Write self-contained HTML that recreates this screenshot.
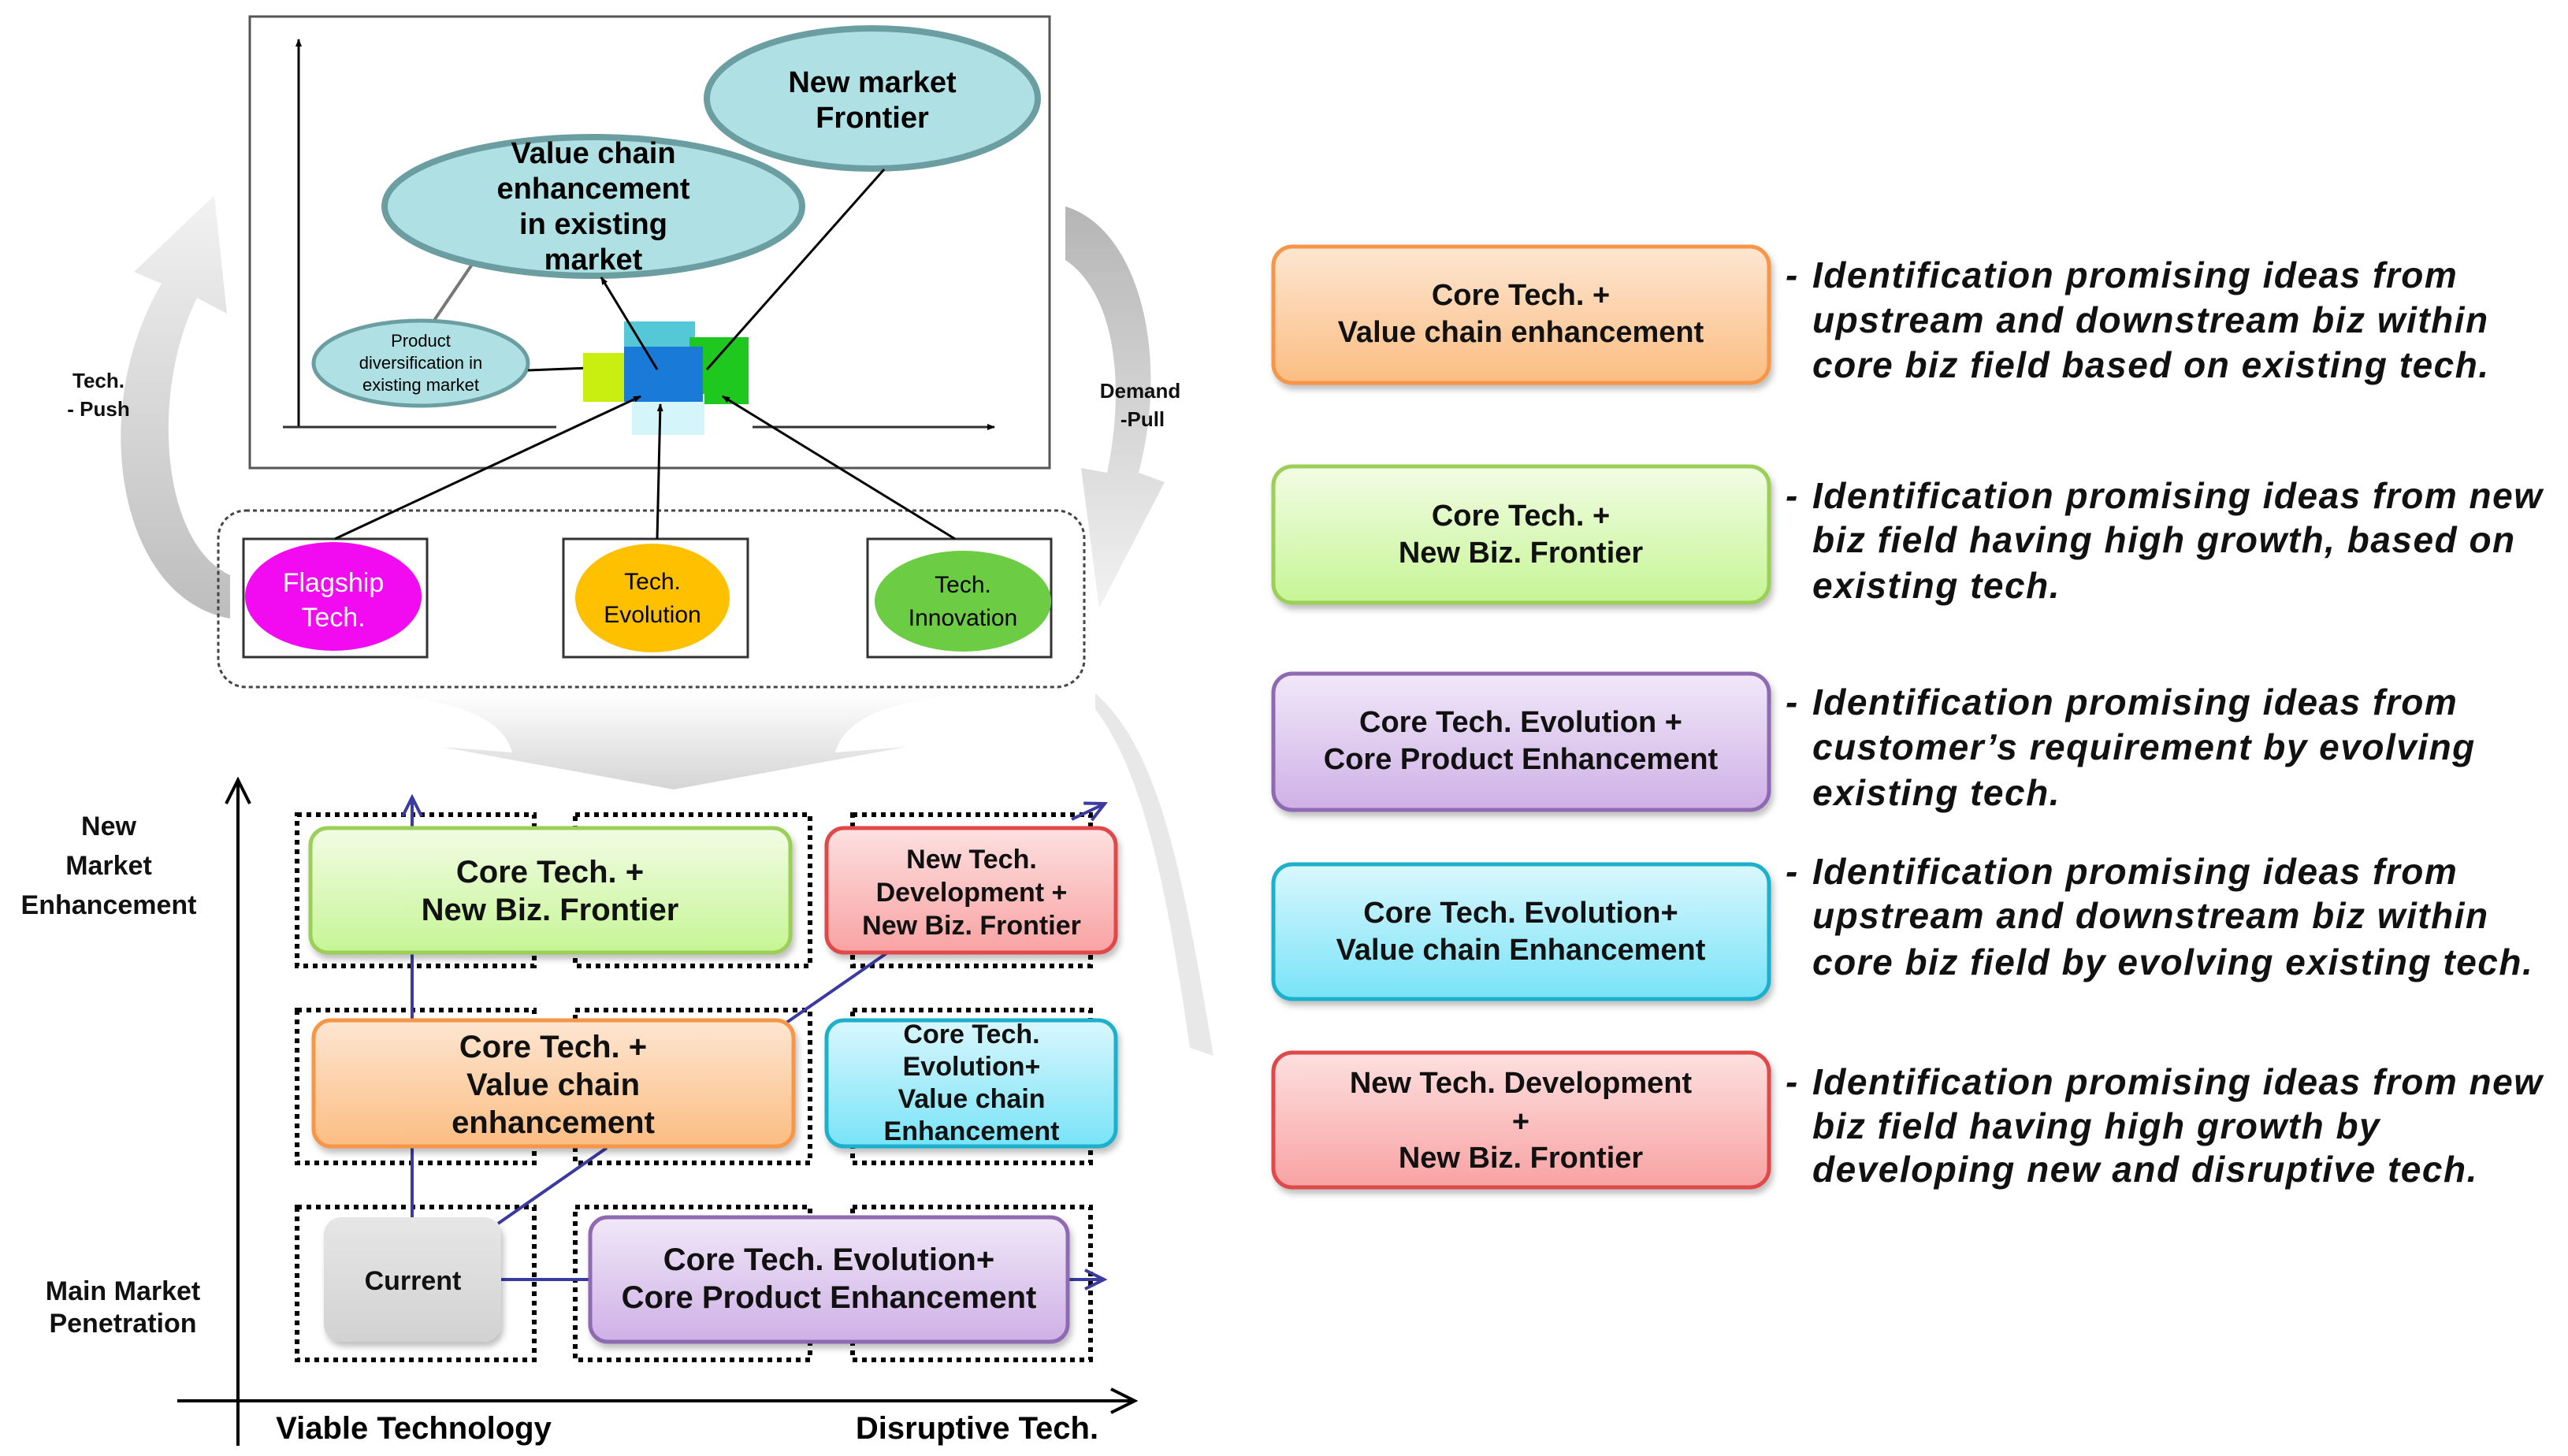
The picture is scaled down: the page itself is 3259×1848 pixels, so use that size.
<!DOCTYPE html>
<html><head><meta charset="utf-8"><style>
html,body{margin:0;padding:0;background:#fff}
svg{display:block}
text{font-family:"Liberation Sans",sans-serif}
.bx{font-size:38px;fill:#111;font-weight:bold}
.ds{font-size:46px;font-weight:bold;font-style:italic;fill:#111;letter-spacing:1.5px}
.lb{font-size:34px;font-weight:bold;fill:#111}
</style></head><body>
<svg width="3259" height="1848" viewBox="0 0 3259 1848" xmlns="http://www.w3.org/2000/svg">
<defs>
<linearGradient id="gOr" x1="0" y1="0" x2="0" y2="1"><stop offset="0" stop-color="#fde6d2"/><stop offset="1" stop-color="#fbbd82"/></linearGradient>
<linearGradient id="gGr" x1="0" y1="0" x2="0" y2="1"><stop offset="0" stop-color="#f2fce4"/><stop offset="1" stop-color="#c6f595"/></linearGradient>
<linearGradient id="gPu" x1="0" y1="0" x2="0" y2="1"><stop offset="0" stop-color="#f1e8f8"/><stop offset="1" stop-color="#ceb0e6"/></linearGradient>
<linearGradient id="gCy" x1="0" y1="0" x2="0" y2="1"><stop offset="0" stop-color="#daf7fd"/><stop offset="1" stop-color="#78e3f7"/></linearGradient>
<linearGradient id="gRd" x1="0" y1="0" x2="0" y2="1"><stop offset="0" stop-color="#fde0e0"/><stop offset="1" stop-color="#f8a2a2"/></linearGradient>
<linearGradient id="gGy" x1="0" y1="0" x2="0" y2="1"><stop offset="0" stop-color="#e6e6e6"/><stop offset="1" stop-color="#d2d2d2"/></linearGradient>
<linearGradient id="gAr" x1="0" y1="0" x2="0" y2="1"><stop offset="0" stop-color="#f2f2f2"/><stop offset="1" stop-color="#bdbdbd"/></linearGradient>
<linearGradient id="gAr2" x1="0" y1="0" x2="0" y2="1"><stop offset="0" stop-color="#b5b5b5"/><stop offset="1" stop-color="#f2f2f2"/></linearGradient>
<linearGradient id="gCh" x1="0" y1="0" x2="0" y2="1"><stop offset="0" stop-color="#ffffff"/><stop offset="1" stop-color="#d0d0d0"/></linearGradient>
<marker id="ak" markerWidth="10" markerHeight="10" refX="9" refY="5" orient="auto" markerUnits="userSpaceOnUse"><path d="M0,1 L10,5 L0,9 Z" fill="#000"/></marker>
<marker id="ab" markerWidth="30" markerHeight="30" refX="26" refY="15" orient="auto" markerUnits="userSpaceOnUse"><path d="M2,3 L26,15 L2,27" fill="none" stroke="#3a3aa0" stroke-width="4"/></marker>
<marker id="ax" markerWidth="36" markerHeight="36" refX="32" refY="18" orient="auto" markerUnits="userSpaceOnUse"><path d="M2,3 L32,18 L2,33" fill="none" stroke="#000" stroke-width="4"/></marker>
<filter id="sh" x="-5%" y="-5%" width="110%" height="120%"><feDropShadow dx="3" dy="6" stdDeviation="4" flood-color="#000" flood-opacity="0.25"/></filter>
</defs>

<path d="M292 785 C150 760 110 520 205 360 L170 345 L272 248 L288 398 L250 378 C190 500 205 690 292 730 Z" fill="url(#gAr)"/>
<path d="M1352 262 C1445 290 1485 450 1445 600 L1478 612 L1395 772 L1372 594 L1405 600 C1430 480 1412 370 1352 330 Z" fill="url(#gAr2)"/>
<path d="M440 878 C600 885 640 920 650 955 L560 948 L855 1002 L1150 948 L1060 955 C1070 920 1110 885 1270 878 Z" fill="url(#gCh)" opacity="0.9"/>
<path d="M1390 880 C1470 950 1500 1100 1540 1340 L1510 1330 C1480 1120 1450 980 1390 900 Z" fill="#e2e2e2" opacity="0.8"/>

<rect x="317" y="21" width="1015" height="573" fill="#fff" stroke="#555" stroke-width="3"/>
<line x1="379" y1="542" x2="379" y2="50" stroke="#000" stroke-width="3" marker-end="url(#ak)"/>
<line x1="359" y1="542" x2="706" y2="542" stroke="#333" stroke-width="3"/>
<line x1="955" y1="542" x2="1262" y2="542" stroke="#333" stroke-width="3" marker-end="url(#ak)"/>
<path d="M550 408 L630 290" stroke="#777" stroke-width="4" fill="none"/>
<path d="M860 285 L900 255" stroke="#777" stroke-width="4" fill="none"/>
<ellipse cx="1107" cy="125" rx="210" ry="89" fill="#aee0e4" stroke="#6b9ea0" stroke-width="8"/>
<text x="1107" y="117" text-anchor="middle" font-size="38" font-weight="bold">New market</text>
<text x="1107" y="162" text-anchor="middle" font-size="38" font-weight="bold">Frontier</text>
<ellipse cx="753" cy="262" rx="265" ry="88" fill="#aee0e4" stroke="#6b9ea0" stroke-width="8"/>
<text x="753" y="207" text-anchor="middle" font-size="38" font-weight="bold">Value chain</text>
<text x="753" y="252" text-anchor="middle" font-size="38" font-weight="bold">enhancement</text>
<text x="753" y="297" text-anchor="middle" font-size="38" font-weight="bold">in existing</text>
<text x="753" y="342" text-anchor="middle" font-size="38" font-weight="bold">market</text>
<ellipse cx="534" cy="461" rx="136" ry="54" fill="#aee0e4" stroke="#6b9ea0" stroke-width="5"/>
<text x="534" y="440" text-anchor="middle" font-size="22">Product</text>
<text x="534" y="468" text-anchor="middle" font-size="22">diversification in</text>
<text x="534" y="496" text-anchor="middle" font-size="22">existing market</text>
<line x1="670" y1="470" x2="800" y2="465" stroke="#000" stroke-width="3"/>
<rect x="740" y="448" width="75" height="62" fill="#c8ef10"/>
<rect x="792" y="408" width="90" height="45" fill="#55c8d8"/>
<rect x="875" y="428" width="75" height="85" fill="#1fc81f"/>
<rect x="802" y="500" width="92" height="52" fill="#d4f6fa"/>
<rect x="792" y="440" width="100" height="70" fill="#1a7ad8"/>
<circle cx="840" cy="418" r="10" fill="#55c8d8"/>
<line x1="834" y1="469" x2="763" y2="352" stroke="#000" stroke-width="3" marker-end="url(#ak)"/>
<line x1="897" y1="469" x2="1122" y2="215" stroke="#000" stroke-width="3"/>
<rect x="277" y="648" width="1099" height="224" rx="35" fill="none" stroke="#444" stroke-width="3" stroke-dasharray="5,4"/>
<rect x="309" y="684" width="233" height="150" fill="#fff" stroke="#333" stroke-width="3"/>
<rect x="715" y="684" width="234" height="150" fill="#fff" stroke="#333" stroke-width="3"/>
<rect x="1101" y="684" width="233" height="150" fill="#fff" stroke="#333" stroke-width="3"/>
<ellipse cx="423" cy="757" rx="112" ry="69" fill="#f20af0"/>
<text x="423" y="751" text-anchor="middle" font-size="34" fill="#fff">Flagship</text>
<text x="423" y="795" text-anchor="middle" font-size="34" fill="#fff">Tech.</text>
<ellipse cx="828" cy="759" rx="98" ry="69" fill="#ffc000"/>
<text x="828" y="748" text-anchor="middle" font-size="30">Tech.</text>
<text x="828" y="790" text-anchor="middle" font-size="30">Evolution</text>
<ellipse cx="1222" cy="763" rx="112" ry="64" fill="#6ccc44"/>
<text x="1222" y="752" text-anchor="middle" font-size="30">Tech.</text>
<text x="1222" y="794" text-anchor="middle" font-size="30">Innovation</text>
<line x1="425" y1="684" x2="813" y2="503" stroke="#000" stroke-width="3" marker-end="url(#ak)"/>
<line x1="834" y1="684" x2="838" y2="513" stroke="#000" stroke-width="3" marker-end="url(#ak)"/>
<line x1="1212" y1="684" x2="917" y2="503" stroke="#000" stroke-width="3" marker-end="url(#ak)"/>
<text x="125" y="492" text-anchor="middle" class="lb" style="font-size:26px">Tech.</text>
<text x="125" y="528" text-anchor="middle" class="lb" style="font-size:26px">- Push</text>
<text x="1447" y="505" text-anchor="middle" class="lb" style="font-size:26px">Demand</text>
<text x="1450" y="541" text-anchor="middle" class="lb" style="font-size:26px">-Pull</text>

<line x1="302" y1="1835" x2="302" y2="990" stroke="#000" stroke-width="4" marker-end="url(#ax)"/>
<line x1="225" y1="1778" x2="1440" y2="1778" stroke="#000" stroke-width="4" marker-end="url(#ax)"/>
<text x="138" y="1060" text-anchor="middle" class="lb">New</text>
<text x="138" y="1110" text-anchor="middle" class="lb">Market</text>
<text x="138" y="1160" text-anchor="middle" class="lb">Enhancement</text>
<text x="156" y="1650" text-anchor="middle" class="lb">Main Market</text>
<text x="156" y="1691" text-anchor="middle" class="lb">Penetration</text>
<text x="525" y="1826" text-anchor="middle" font-size="40" font-weight="bold">Viable Technology</text>
<text x="1240" y="1826" text-anchor="middle" font-size="40" font-weight="bold">Disruptive Tech.</text>
<g fill="none" stroke="#000" stroke-width="6" stroke-dasharray="6,6">
<rect x="377" y="1034" width="301" height="192"/><rect x="730" y="1034" width="298" height="192"/><rect x="1082" y="1034" width="302" height="192"/>
<rect x="377" y="1282" width="301" height="194"/><rect x="730" y="1282" width="298" height="194"/><rect x="1082" y="1282" width="302" height="194"/>
<rect x="377" y="1532" width="301" height="194"/><rect x="730" y="1532" width="298" height="194"/><rect x="1082" y="1532" width="302" height="194"/>
</g>
<g stroke="#3a3aa0" stroke-width="4" fill="none">
<line x1="523" y1="1545" x2="523" y2="1012" marker-end="url(#ab)"/>
<line x1="632" y1="1553" x2="770" y2="1457"/>
<line x1="998" y1="1298" x2="1125" y2="1210"/>
<line x1="1360" y1="1040" x2="1402" y2="1020" marker-end="url(#ab)"/>
<line x1="636" y1="1624" x2="749" y2="1624"/>
<line x1="1355" y1="1624" x2="1401" y2="1624" marker-end="url(#ab)"/>
</g>
<g filter="url(#sh)">
<rect x="394" y="1051" width="609" height="158" rx="22" fill="url(#gGr)" stroke="#9bcf58" stroke-width="5"/>
<rect x="1049" y="1051" width="367" height="158" rx="22" fill="url(#gRd)" stroke="#e04848" stroke-width="5"/>
<rect x="398" y="1295" width="609" height="160" rx="22" fill="url(#gOr)" stroke="#f79646" stroke-width="5"/>
<rect x="1049" y="1295" width="367" height="160" rx="22" fill="url(#gCy)" stroke="#1cb0cc" stroke-width="5"/>
<rect x="411" y="1545" width="225" height="158" rx="22" fill="url(#gGy)"/>
<rect x="749" y="1545" width="606" height="158" rx="22" fill="url(#gPu)" stroke="#8e6bb3" stroke-width="5"/>
</g>
<text x="698" y="1120" text-anchor="middle" class="bx" style="font-size:40px">Core Tech. +</text>
<text x="698" y="1168" text-anchor="middle" class="bx" style="font-size:40px">New Biz. Frontier</text>
<text x="1233" y="1102" text-anchor="middle" class="bx" style="font-size:34px">New Tech.</text>
<text x="1233" y="1144" text-anchor="middle" class="bx" style="font-size:34px">Development +</text>
<text x="1233" y="1186" text-anchor="middle" class="bx" style="font-size:34px">New Biz. Frontier</text>
<text x="702" y="1342" text-anchor="middle" class="bx" style="font-size:40px">Core Tech. +</text>
<text x="702" y="1390" text-anchor="middle" class="bx" style="font-size:40px">Value chain</text>
<text x="702" y="1438" text-anchor="middle" class="bx" style="font-size:40px">enhancement</text>
<text x="1233" y="1324" text-anchor="middle" class="bx" style="font-size:34px">Core Tech.</text>
<text x="1233" y="1365" text-anchor="middle" class="bx" style="font-size:34px">Evolution+</text>
<text x="1233" y="1406" text-anchor="middle" class="bx" style="font-size:34px">Value chain</text>
<text x="1233" y="1447" text-anchor="middle" class="bx" style="font-size:34px">Enhancement</text>
<text x="524" y="1637" text-anchor="middle" class="bx" style="font-size:34px">Current</text>
<text x="1052" y="1612" text-anchor="middle" class="bx" style="font-size:40px">Core Tech. Evolution+</text>
<text x="1052" y="1660" text-anchor="middle" class="bx" style="font-size:40px">Core Product Enhancement</text>

<g filter="url(#sh)">
<rect x="1616" y="313" width="629" height="173" rx="24" fill="url(#gOr)" stroke="#f79646" stroke-width="5"/>
<rect x="1616" y="592" width="629" height="173" rx="24" fill="url(#gGr)" stroke="#9bcf58" stroke-width="5"/>
<rect x="1616" y="855" width="629" height="173" rx="24" fill="url(#gPu)" stroke="#8e6bb3" stroke-width="5"/>
<rect x="1616" y="1097" width="629" height="171" rx="24" fill="url(#gCy)" stroke="#1cb0cc" stroke-width="5"/>
<rect x="1616" y="1336" width="629" height="171" rx="24" fill="url(#gRd)" stroke="#e04848" stroke-width="5"/>
</g>
<g class="bx" text-anchor="middle">
<text x="1930" y="387">Core Tech. +</text>
<text x="1930" y="434">Value chain enhancement</text>
<text x="1930" y="667">Core Tech. +</text>
<text x="1930" y="714">New Biz. Frontier</text>
<text x="1930" y="929">Core Tech. Evolution +</text>
<text x="1930" y="976">Core Product Enhancement</text>
<text x="1930" y="1171">Core Tech. Evolution+</text>
<text x="1930" y="1218">Value chain Enhancement</text>
<text x="1930" y="1387">New Tech. Development</text>
<text x="1930" y="1436">+</text>
<text x="1930" y="1482">New Biz. Frontier</text>
</g>
<g class="ds">
<text x="2266" y="365">-</text><text x="2300" y="365">Identification promising ideas from</text>
<text x="2300" y="422">upstream and downstream biz within</text>
<text x="2300" y="479">core biz field based on existing tech.</text>
<text x="2266" y="645">-</text><text x="2300" y="645">Identification promising ideas from new</text>
<text x="2300" y="701">biz field having high growth, based on</text>
<text x="2300" y="759">existing tech.</text>
<text x="2266" y="907">-</text><text x="2300" y="907">Identification promising ideas from</text>
<text x="2300" y="964">customer’s requirement by evolving</text>
<text x="2300" y="1022">existing tech.</text>
<text x="2266" y="1122">-</text><text x="2300" y="1122">Identification promising ideas from</text>
<text x="2300" y="1178">upstream and downstream biz within</text>
<text x="2300" y="1237">core biz field by evolving existing tech.</text>
<text x="2266" y="1389">-</text><text x="2300" y="1389">Identification promising ideas from new</text>
<text x="2300" y="1445">biz field having high growth by</text>
<text x="2300" y="1500">developing new and disruptive tech.</text>
</g>
</svg>
</body></html>
